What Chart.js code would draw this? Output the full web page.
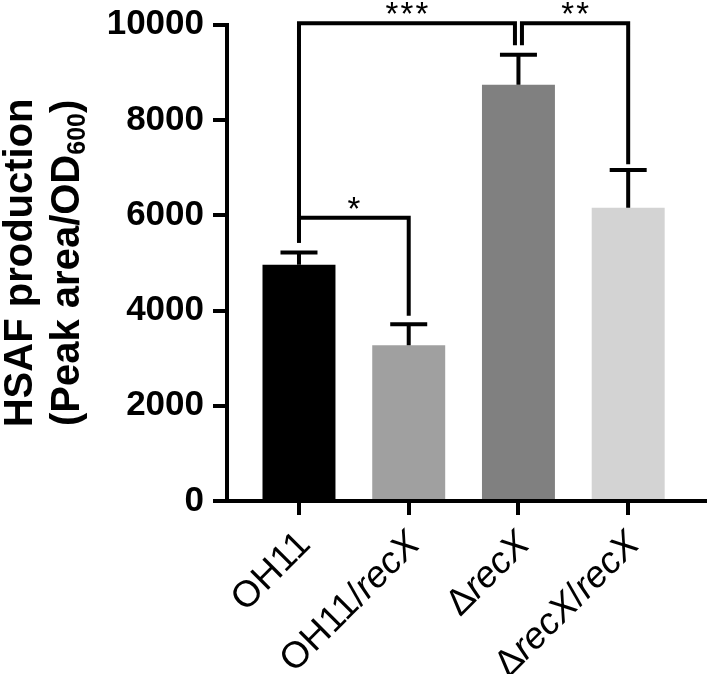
<!DOCTYPE html>
<html>
<head>
<meta charset="utf-8">
<script src="https://cdn.jsdelivr.net/npm/chart.js@4"></script>
<style>
  html, body { margin: 0; padding: 0; background: #fff; }
</style>
</head>
<body>
<canvas id="chart" width="707" height="674"></canvas>
<script>
// data
const categories = ['OH11', 'OH11/recX', 'ΔrecX', 'ΔrecX/recX'];
const meanValues = [4960, 3270, 8740, 6160];
const sdValues = [260, 440, 630, 790];
const barColors = ['#000000', '#a0a0a0', '#808080', '#d3d3d3'];
const yTicks = [0, 2000, 4000, 6000, 8000, 10000];

// significance brackets
const sigPairs = [[0, 1], [0, 2], [2, 3]];
const sigLabels = ['*', '***', '**'];
const sigHeights = [5950, 10030, 10030];
const sigLegEnds = [[5420, 3890], [5420, 9570], [9570, 7070]];

const FONT = '"Liberation Sans", Arial, sans-serif';

// draws a list of text pieces one after another on the current baseline
function drawParts(ctx, parts, x, y, align) {
  let total = 0;
  parts.forEach(p => {
    ctx.font = p.font;
    p.w = ctx.measureText(p.text).width;
    total += p.w;
  });
  let cx = align === 'right' ? x - total : align === 'center' ? x - total / 2 : x;
  ctx.textAlign = 'left';
  parts.forEach(p => {
    ctx.font = p.font;
    ctx.fillText(p.text, cx, y + (p.dy || 0));
    cx += p.w;
  });
}

// "recX" is set in italics in the tick labels
function labelParts(label) {
  return label.split(/(recX)/).filter(s => s.length).map(s => ({
    text: s,
    font: (s === 'recX' ? 'italic ' : '') + '37px ' + FONT
  }));
}

const overlay = {
  id: 'overlay',
  afterDraw(chart) {
    const ctx = chart.ctx;
    const xs = chart.scales.x, ys = chart.scales.y;
    const area = chart.chartArea;
    ctx.save();
    ctx.strokeStyle = '#000';
    ctx.fillStyle = '#000';
    ctx.lineWidth = 4;
    ctx.lineCap = 'butt';
    ctx.lineJoin = 'miter';

    // error bars (upper only)
    meanValues.forEach((v, i) => {
      const x = xs.getPixelForValue(i);
      const y0 = ys.getPixelForValue(v);
      const y1 = ys.getPixelForValue(v + sdValues[i]);
      ctx.beginPath();
      ctx.moveTo(x, y0);
      ctx.lineTo(x, y1);
      ctx.moveTo(x - 18.5, y1);
      ctx.lineTo(x + 18.5, y1);
      ctx.stroke();
    });

    // brackets
    sigPairs.forEach((pair, k) => {
      const [a, b] = pair;
      let xa = xs.getPixelForValue(a), xb = xs.getPixelForValue(b);
      // shared end at the same height: pull the legs apart a little
      sigPairs.forEach((other, j) => {
        if (j === k || sigHeights[j] !== sigHeights[k]) return;
        if (other[0] === b) xb -= 3.5;
        if (other[1] === a) xa += 3.5;
      });
      const yt = ys.getPixelForValue(sigHeights[k]);
      ctx.beginPath();
      ctx.moveTo(xa, ys.getPixelForValue(sigLegEnds[k][0]));
      ctx.lineTo(xa, yt);
      ctx.lineTo(xb, yt);
      ctx.lineTo(xb, ys.getPixelForValue(sigLegEnds[k][1]));
      ctx.stroke();

      // stars, one at a time so the spacing stays even
      ctx.font = '33px ' + FONT;
      ctx.textAlign = 'center';
      ctx.textBaseline = 'alphabetic';
      const m = ctx.measureText('*');
      const base = yt - 9 - m.actualBoundingBoxDescent;
      const step = 15;
      const n = sigLabels[k].length;
      const mid = (xa + xb) / 2;
      for (let s = 0; s < n; s++) {
        ctx.fillText('*', mid + (s - (n - 1) / 2) * step, base);
      }
    });

    // x tick labels, rotated
    ctx.textBaseline = 'alphabetic';
    categories.forEach((c, i) => {
      const x = xs.getPixelForValue(i);
      ctx.save();
      ctx.translate(x + 13, area.bottom + 45);
      ctx.rotate(-Math.PI / 4);
      drawParts(ctx, labelParts(c), 0, 0, 'right');
      ctx.restore();
    });

    // y axis title, two lines
    const cy = (area.top + area.bottom) / 2;
    ctx.save();
    ctx.translate(32, cy);
    ctx.rotate(-Math.PI / 2);
    drawParts(ctx, [{ text: 'HSAF production', font: 'bold 40px ' + FONT }], 0, 0, 'center');
    ctx.restore();
    ctx.save();
    ctx.translate(79, cy);
    ctx.rotate(-Math.PI / 2);
    drawParts(ctx, [
      { text: '(Peak area/OD', font: 'bold 40px ' + FONT },
      { text: '600', font: 'bold 25px ' + FONT, dy: 6 },
      { text: ')', font: 'bold 40px ' + FONT }
    ], 0, 0, 'center');
    ctx.restore();

    ctx.restore();
  }
};

const axisGrid = { drawOnChartArea: false, drawTicks: true, tickLength: 14, lineWidth: 4, color: '#000', offset: false };
const axisBorder = { display: true, color: '#000', width: 4 };

new Chart(document.getElementById('chart'), {
  type: 'bar',
  data: {
    datasets: [{
      data: meanValues.map((v, i) => ({ x: i, y: v })),
      backgroundColor: barColors,
      borderWidth: 0,
      categoryPercentage: 1,
      barPercentage: 0.665
    }]
  },
  options: {
    responsive: false,
    animation: false,
    layout: { padding: { top: 0, right: 2, left: 0, bottom: 0 } },
    plugins: {
      legend: { display: false },
      tooltip: { enabled: false }
    },
    scales: {
      x: {
        type: 'linear',
        min: -0.656,
        max: 3.70,
        offset: false,
        z: 1,
        afterBuildTicks: s => { s.ticks = categories.map((c, i) => ({ value: i })); },
        afterFit: s => { s.height = 173; },
        ticks: { display: false },
        grid: axisGrid,
        border: axisBorder
      },
      y: {
        min: 0,
        max: 10000,
        z: 1,
        afterBuildTicks: s => { s.ticks = yTicks.map(v => ({ value: v })); },
        afterFit: s => { s.width = 227; },
        ticks: {
          color: '#000',
          padding: 9,
          font: { family: FONT, size: 35, weight: 'bold', lineHeight: 0.9 },
          callback: v => String(v)
        },
        grid: axisGrid,
        border: axisBorder
      }
    }
  },
  plugins: [overlay]
});
</script>
</body>
</html>
